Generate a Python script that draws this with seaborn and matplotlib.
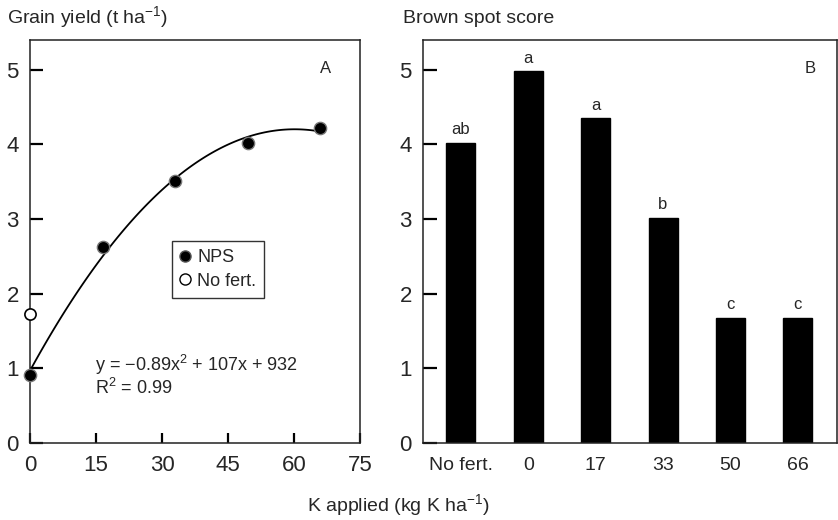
import matplotlib
matplotlib.use("Agg")
import matplotlib.pyplot as plt
import seaborn as sns
import pandas as pd
from matplotlib.lines import Line2D

# ---- data ----
k_rates = [0, 16.5, 33, 49.5, 66]
nps_yield = [0.91, 2.63, 3.51, 4.02, 4.22]
nofert_k = [0]
nofert_yield = [1.73]

bar_labels = ["No fert.", "0", "17", "33", "50", "66"]
brown_spot = [4.02, 4.98, 4.35, 3.02, 1.68, 1.68]
letters = ["ab", "a", "a", "b", "c", "c"]

xticks_a = [0, 15, 30, 45, 60, 75]
yticks = [0, 1, 2, 3, 4, 5]

sns.set_theme(style="white", rc={"xtick.direction": "in", "ytick.direction": "in"})
plt.rcParams['font.family'] = ['Liberation Sans', 'DejaVu Sans']
plt.rcParams['mathtext.fontset'] = 'custom'
plt.rcParams['mathtext.rm'] = 'Liberation Sans'
plt.rcParams['mathtext.it'] = 'Liberation Sans'
plt.rcParams['mathtext.default'] = 'regular'
plt.rcParams['xtick.direction'] = 'in'
plt.rcParams['ytick.direction'] = 'in'

fig = plt.figure(figsize=(8.38, 5.20), dpi=100)
axA = fig.add_axes([0.0358, 0.1481, 0.3938, 0.775])
axB = fig.add_axes([0.5048, 0.1481, 0.4940, 0.775])

spine_c = "#222222"
for ax in (axA, axB):
    for s in ax.spines.values():
        s.set_color(spine_c)
        s.set_linewidth(1.1)
        s.set_visible(True)

# ---- Panel A ----
dfA = pd.DataFrame({"K": k_rates, "Yield": nps_yield})
sns.regplot(data=dfA, x="K", y="Yield", order=2, ci=None, scatter=False,
            truncate=True, ax=axA, line_kws=dict(color="black", lw=1.3))
sns.scatterplot(data=dfA, x="K", y="Yield", ax=axA, s=78, color="black",
                edgecolor="#777777", linewidth=1.0, zorder=5, clip_on=False)
dfN = pd.DataFrame({"K": nofert_k, "Yield": nofert_yield})
sns.scatterplot(data=dfN, x="K", y="Yield", ax=axA, s=65, color="white",
                edgecolor="black", linewidth=1.2, zorder=5, clip_on=False)
axA.set_xlim(0, 75)
axA.set_ylim(0, 5.4)
axA.set_xticks(xticks_a)
axA.set_yticks(yticks)
axA.set_xlabel("")
axA.set_ylabel("")
axA.tick_params(axis="y", direction="in", length=9, width=1.6, color="black",
                labelsize=16, pad=8, left=True)
axA.tick_params(axis="x", direction="in", length=7, width=1.6, color="black",
                labelsize=16, pad=9, bottom=True)
axA.text(0.895, 0.93, "A", transform=axA.transAxes, fontsize=12,
         ha="center", va="center")
axA.text(0.197, 0.194, r"y = −0.89x$^{2}$ + 107x + 932", transform=axA.transAxes,
         fontsize=13, ha="left", va="center")
axA.text(0.197, 0.136, r"R$^{2}$ = 0.99", transform=axA.transAxes,
         fontsize=13, ha="left", va="center")
handles = [Line2D([], [], marker="o", ls="", color="black", markeredgecolor="#555555",
                  markersize=8),
           Line2D([], [], marker="o", ls="", color="white", markeredgecolor="black",
                  markersize=8)]
leg = axA.legend(handles, ["NPS", "No fert."], loc="upper left",
                 bbox_to_anchor=(0.43, 0.501), frameon=True, fancybox=False,
                 fontsize=13, handlelength=0.6, handletextpad=0.35,
                 borderpad=0.45, labelspacing=0.35, borderaxespad=0)
leg.get_frame().set_edgecolor("black")
leg.get_frame().set_linewidth(1.0)

# ---- Panel B ----
dfB = pd.DataFrame({"Treatment": bar_labels, "Score": brown_spot})
sns.barplot(data=dfB, x="Treatment", y="Score", ax=axB, color="black",
            width=0.43, saturation=1, edgecolor="black")
axB.set_xlim(-0.56, 5.58)
axB.set_ylim(0, 5.4)
axB.set_yticks(yticks)
axB.set_xlabel("")
axB.set_ylabel("")
axB.tick_params(axis="y", direction="in", length=10, width=1.6, color="black",
                labelsize=16, pad=8, left=True)
axB.tick_params(axis="x", length=0, labelsize=14, pad=10)
for i, (v, l) in enumerate(zip(brown_spot, letters)):
    axB.annotate(l, (i, v), xytext=(0, 4), textcoords="offset points",
                 ha="center", va="bottom", fontsize=12)
axB.text(0.935, 0.93, "B", transform=axB.transAxes, fontsize=12,
         ha="center", va="center")

# ---- titles / shared label ----
fig.text(0.008, 0.967, r"Grain yield (t ha$^{-1}$)", fontsize=14, ha="left", va="center")
fig.text(0.481, 0.964, "Brown spot score", fontsize=14, ha="left", va="center")
fig.text(0.476, 0.028, r"K applied (kg K ha$^{-1}$)", fontsize=14, ha="center", va="center")

fig.savefig("out.png", dpi=100)
